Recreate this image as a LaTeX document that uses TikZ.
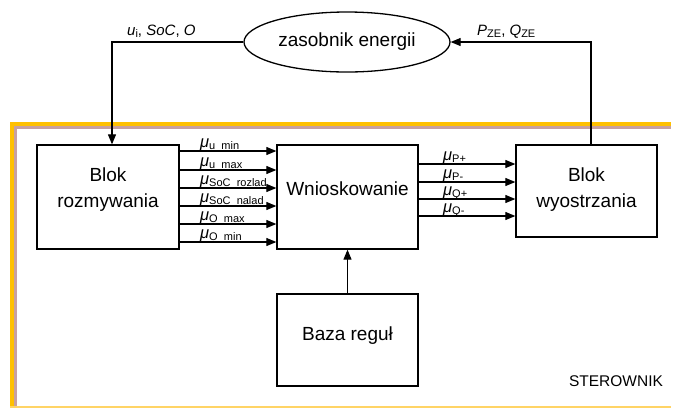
\documentclass[tikz,border=0pt]{standalone}
\usepackage{fontspec}
\setmainfont{Liberation Sans}
\usetikzlibrary{arrows.meta,shapes.geometric}
\newcommand{\mysubtxt}[1]{\raisebox{-0.35ex}{\fontsize{11pt}{12pt}\selectfont #1}}
\newcommand{\mulabel}[1]{{\fontsize{16.5pt}{18pt}\selectfont\itshape μ}\mysubtxt{#1}}
\begin{document}
\begin{tikzpicture}[x=1pt,y=-1pt,
  box/.style={draw, line width=1.3pt, inner sep=0pt},
  txt/.style={font=\fontsize{19pt}{26pt}\selectfont, align=center, inner sep=0pt},
  arr/.style={line width=1.1pt, -{Triangle[length=10pt,width=8pt]}},
  lab/.style={font=\fontsize{15pt}{18pt}\selectfont, inner sep=0pt, anchor=base west}]
\useasboundingbox (0,0) rectangle (675,408);
\definecolor{frameor}{HTML}{FFC000}
\definecolor{framerose}{HTML}{C8A0A0}
\definecolor{framebot}{HTML}{FFD466}
% frame
\fill[white] (0,0) rectangle (675,408);
\draw[framerose, line width=3pt] (15,408) -- (15,127.5) -- (671,127.5);
\draw[frameor, line width=4pt] (12,408) -- (12,124) -- (671,124);
\draw[framebot, line width=1.5pt] (10,407) -- (671,407);
% nodes
\node[draw, ellipse, line width=1.3pt, minimum width=206pt, minimum height=60pt, inner sep=0pt,
      font=\fontsize{19pt}{22pt}\selectfont] (E) at (347,42) {zasobnik energii};
\node[box, minimum width=142pt, minimum height=104pt] (BR) at (108,197) {};
\node[box, minimum width=141pt, minimum height=104pt] (W) at (347.5,197) {};
\node[box, minimum width=141pt, minimum height=92pt] (BW) at (586.5,191) {};
\node[box, minimum width=141pt, minimum height=92pt] (B) at (347.5,340) {};
\node[txt] (tBR) at (108,190) {Blok\\rozmywania};
\node[txt] (tW) at (347.5,189) {Wnioskowanie};
\node[txt] (tBW) at (586.5,190) {Blok\\wyostrzania};
\node[txt] (tB) at (347.5,336) {Baza reguł};
\node[font=\fontsize{15.5pt}{18pt}\selectfont, inner sep=0pt] (S) at (616,381) {STEROWNIK};
% top connectors
\draw[arr] (E.west) -| ([xshift=4pt]BR.north);
\draw[arr] ([xshift=4.5pt]BW.north) |- (E.east);
\node[lab] (lu) at (127,35) {\textit{u}\mysubtxt{i}, \textit{SoC}, \textit{O}};
\node[lab] (lp) at (477,35) {\textit{P}\mysubtxt{ZE}, \textit{Q}\mysubtxt{ZE}};
% left arrows
\foreach \yy/\ss [count=\i] in {151/u\_min, 170/u\_max, 188/SoC\_rozlad, 206/SoC\_nalad, 224/O\_max, 242/O\_min} {
  \coordinate (l\i) at (0,\yy);
  \draw[arr] (BR.east |- l\i) -- (W.west |- l\i);
  \node[lab] (ml\i) at (200,\yy-4) {\mulabel{\ss}};
}
% right arrows
\foreach \yy/\ss [count=\i] in {164/P+, 182/P-, 199/Q+, 216/Q-} {
  \coordinate (r\i) at (0,\yy);
  \draw[arr] (W.east |- r\i) -- (BW.west |- r\i);
  \node[lab] (mr\i) at (443,\yy-4) {\mulabel{\ss}};
}
% rules arrow
\draw[arr] (B.north) -- (W.south);
\end{tikzpicture}
\end{document}
